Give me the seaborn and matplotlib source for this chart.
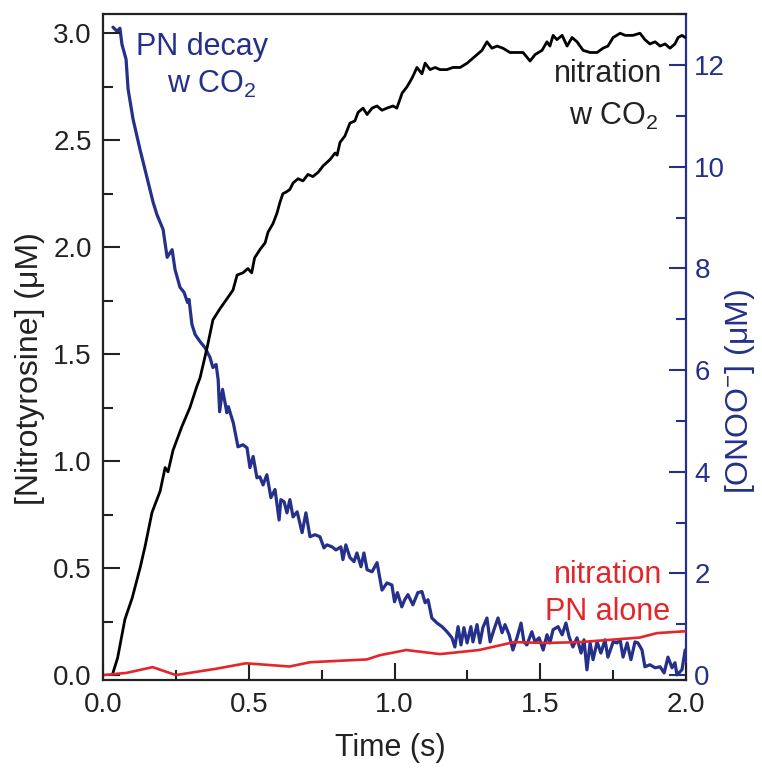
import matplotlib
matplotlib.use('Agg')
import matplotlib.pyplot as plt
from matplotlib.ticker import MultipleLocator
import seaborn as sns

# nitration with CO2 (left axis, uM)
t_nitr_co2 = [0.034, 0.05, 0.075, 0.10, 0.127, 0.144, 0.168, 0.196, 0.213, 0.223,
              0.24, 0.27, 0.298, 0.322, 0.333, 0.357, 0.377, 0.40, 0.436, 0.446,
              0.46, 0.48, 0.497, 0.51, 0.52, 0.539, 0.556, 0.566, 0.583, 0.597,
              0.607, 0.617, 0.631, 0.641, 0.652, 0.669, 0.686, 0.703, 0.72, 0.738,
              0.755, 0.779, 0.796, 0.803, 0.813, 0.83, 0.847, 0.864, 0.875, 0.892,
              0.906, 0.923, 0.94, 0.957, 0.974, 0.995, 1.008, 1.026, 1.043, 1.06,
              1.077, 1.094, 1.105, 1.122, 1.139, 1.156, 1.18, 1.20, 1.225, 1.249,
              1.266, 1.283, 1.30, 1.317, 1.334, 1.352, 1.372, 1.396, 1.42, 1.441,
              1.465, 1.482, 1.506, 1.523, 1.533, 1.544, 1.557, 1.575, 1.592, 1.609,
              1.626, 1.647, 1.671, 1.695, 1.715, 1.732, 1.75, 1.774, 1.791, 1.818,
              1.842, 1.859, 1.876, 1.894, 1.911, 1.928, 1.945, 1.962, 1.973, 1.986,
              1.997]
nitr_co2 = [0.01, 0.08, 0.26, 0.36, 0.50, 0.60, 0.76, 0.86, 0.97, 0.95,
            1.05, 1.16, 1.25, 1.35, 1.39, 1.53, 1.66, 1.71, 1.78, 1.80,
            1.87, 1.88, 1.90, 1.88, 1.95, 1.99, 2.02, 2.07, 2.11, 2.16,
            2.21, 2.25, 2.26, 2.27, 2.30, 2.32, 2.31, 2.34, 2.33, 2.35,
            2.38, 2.41, 2.44, 2.43, 2.49, 2.52, 2.58, 2.59, 2.63, 2.65,
            2.62, 2.65, 2.66, 2.64, 2.65, 2.66, 2.65, 2.72, 2.75, 2.79,
            2.84, 2.81, 2.86, 2.83, 2.84, 2.83, 2.83, 2.84, 2.84, 2.86,
            2.88, 2.90, 2.92, 2.96, 2.93, 2.94, 2.93, 2.91, 2.91, 2.91,
            2.87, 2.90, 2.92, 2.96, 2.94, 2.99, 2.97, 2.99, 2.94, 2.98,
            2.96, 2.92, 2.91, 2.91, 2.93, 2.94, 2.98, 3.00, 2.99, 2.99,
            3.00, 2.97, 2.95, 2.96, 2.94, 2.95, 2.93, 2.95, 2.98, 2.99,
            2.98]

# nitration, peroxynitrite alone (left axis, uM)
t_nitr_alone = [0.0, 0.08, 0.17, 0.25, 0.39, 0.49, 0.64, 0.71, 0.905, 0.95,
                1.04, 1.156, 1.29, 1.41, 1.52, 1.635, 1.84, 1.90, 2.0]
nitr_alone = [0.0, 0.01, 0.037, 0.0, 0.03, 0.055, 0.04, 0.06, 0.073, 0.093,
              0.117, 0.098, 0.117, 0.154, 0.15, 0.154, 0.175, 0.196, 0.205]

# peroxynitrite decay with CO2 (right axis, uM)
t_pn = [0.034, 0.048, 0.058, 0.065, 0.079, 0.086, 0.103, 0.127, 0.144, 0.161,
        0.172, 0.185, 0.206, 0.22, 0.237, 0.247, 0.264, 0.278, 0.29, 0.295,
        0.305, 0.316, 0.333, 0.35, 0.367, 0.377, 0.388, 0.395, 0.40, 0.41,
        0.425, 0.43, 0.447, 0.463, 0.48, 0.494, 0.504, 0.515, 0.528, 0.538,
        0.549, 0.562, 0.576, 0.59, 0.604, 0.61, 0.621, 0.631, 0.641, 0.652,
        0.666, 0.683, 0.696, 0.71, 0.727, 0.744, 0.758, 0.768, 0.786, 0.799,
        0.816, 0.823, 0.833, 0.847, 0.861, 0.871, 0.885, 0.895, 0.906, 0.923,
        0.94, 0.957, 0.974, 0.991, 1.0, 1.01, 1.025, 1.035, 1.046, 1.063,
        1.08, 1.094, 1.105, 1.115, 1.128, 1.146, 1.163, 1.18, 1.197, 1.207,
        1.218, 1.228, 1.238, 1.249, 1.262, 1.269, 1.283, 1.293, 1.303, 1.317,
        1.328, 1.341, 1.355, 1.369, 1.379, 1.393, 1.406, 1.42, 1.434, 1.444,
        1.454, 1.471, 1.482, 1.496, 1.51, 1.523, 1.533, 1.544, 1.561, 1.575,
        1.588, 1.599, 1.612, 1.626, 1.64, 1.65, 1.66, 1.671, 1.681, 1.695,
        1.708, 1.722, 1.732, 1.75, 1.763, 1.774, 1.784, 1.798, 1.811, 1.825,
        1.835, 1.849, 1.859, 1.876, 1.894, 1.911, 1.925, 1.938, 1.952, 1.962,
        1.969, 1.986, 1.997]
pn_co2 = [12.75, 12.67, 12.73, 12.41, 12.12, 11.53, 10.94, 10.34, 9.95, 9.56,
          9.30, 9.06, 8.77, 8.22, 8.37, 7.98, 7.63, 7.53, 7.33, 7.39,
          6.90, 6.70, 6.56, 6.44, 6.25, 6.05, 6.11, 5.81, 5.18, 5.62,
          5.16, 5.28, 4.96, 4.49, 4.53, 4.47, 4.08, 4.30, 3.88, 3.90,
          3.74, 3.94, 3.49, 3.65, 3.05, 3.45, 3.41, 3.19, 3.45, 3.11,
          3.21, 2.80, 3.19, 2.72, 2.76, 2.72, 2.50, 2.56, 2.52, 2.46,
          2.52, 2.27, 2.56, 2.31, 2.23, 2.40, 2.13, 2.40, 2.07, 2.03,
          2.21, 1.67, 1.81, 1.77, 1.44, 1.62, 1.34, 1.48, 1.58, 1.38,
          1.62, 1.64, 1.42, 1.48, 1.12, 1.02, 0.95, 0.85, 0.73, 0.55,
          0.95, 0.59, 0.93, 0.63, 0.95, 0.65, 0.99, 0.63, 0.93, 1.12,
          0.65, 0.89, 1.12, 0.83, 0.99, 0.79, 0.49, 0.73, 1.02, 0.65,
          0.59, 0.85, 0.65, 0.73, 0.49, 0.79, 0.63, 0.89, 0.95, 0.79,
          1.02, 0.75, 0.55, 0.73, 0.43, 0.69, 0.10, 0.63, 0.30, 0.65,
          0.43, 0.69, 0.35, 0.65, 0.63, 0.69, 0.35, 0.63, 0.30, 0.65,
          0.63, 0.49, 0.16, 0.20, 0.14, 0.16, 0.04, 0.35, 0.14, 0.24,
          0.0, 0.10, 0.49]

NAVY = '#24308a'
RED = '#e4252a'

sns.set_theme(style='ticks')
plt.rcParams['font.family'] = ['Liberation Sans', 'DejaVu Sans']
plt.rcParams['mathtext.fontset'] = 'custom'
plt.rcParams['mathtext.rm'] = 'Liberation Sans'
plt.rcParams['mathtext.default'] = 'regular'

fig = plt.figure(figsize=(7.62, 7.68), dpi=100, facecolor='white')
ax = fig.add_axes([0.1352, 0.1146, 0.7651, 0.8672])
ax2 = ax.twinx()

sns.lineplot(x=t_pn, y=pn_co2, ax=ax2, color=NAVY, lw=2.3,
             estimator=None, sort=False, legend=False)
sns.lineplot(x=t_nitr_co2, y=nitr_co2, ax=ax, color='black', lw=2.0,
             estimator=None, sort=False, legend=False)
sns.lineplot(x=t_nitr_alone, y=nitr_alone, ax=ax, color=RED, lw=1.9,
             estimator=None, sort=False, legend=False)

# left axis drawn above the twin so the nitration traces sit on top
ax.set_zorder(ax2.get_zorder() + 1)
ax.patch.set_visible(False)

ax.set_xlim(0, 2.0)
ax.set_ylim(-0.023, 3.09)
ax2.set_ylim(-0.1, 13.01)

ax.xaxis.set_major_locator(MultipleLocator(0.5))
ax.xaxis.set_minor_locator(MultipleLocator(0.25))
ax.yaxis.set_major_locator(MultipleLocator(0.5))
ax.yaxis.set_minor_locator(MultipleLocator(0.25))
ax2.yaxis.set_major_locator(MultipleLocator(2))
ax2.yaxis.set_minor_locator(MultipleLocator(1))

ax.tick_params(which='both', direction='in', width=1.5, top=False, right=False,
               labelsize=20, colors='#222222')
ax.tick_params(axis='y', pad=8)
ax.tick_params(axis='x', pad=9)
ax.tick_params(which='major', length=12)
ax.tick_params(which='minor', length=7)
ax2.tick_params(which='both', direction='in', width=1.5, colors=NAVY,
                labelsize=20, pad=6)
ax2.tick_params(which='major', length=12)
ax2.tick_params(which='minor', length=7)

for side in ['left', 'top', 'bottom']:
    ax.spines[side].set_linewidth(1.6)
    ax.spines[side].set_color('#222222')
    ax2.spines[side].set_visible(False)
ax.spines['right'].set_visible(False)
ax2.spines['right'].set_linewidth(1.6)
ax2.spines['right'].set_color(NAVY)

ax.set_xlabel('Time (s)', fontsize=22, va='center', color='#222222')
ax.xaxis.set_label_coords(0.492, -0.102)
ax.set_ylabel('[Nitrotyrosine] (μM)', fontsize=23, va='center', color='#222222')
ax.yaxis.set_label_coords(-0.125, 0.468)
ax2.set_ylabel('[ONOO$^{-}$] (μM)', fontsize=23, color=NAVY, va='center', rotation=90)
ax2.yaxis.set_label_coords(1.093, 0.434)

txt = dict(transform=ax.transAxes, fontsize=22, va='baseline')
ax.text(0.17, 0.938, 'PN decay', color=NAVY, ha='center', **txt)
ax.text(0.187, 0.881, 'w CO$_2$', color=NAVY, ha='center', **txt)
ax.text(0.96, 0.898, 'nitration', color='#222222', ha='right', **txt)
ax.text(0.952, 0.833, 'w CO$_2$', color='#222222', ha='right', **txt)
ax.text(0.866, 0.146, 'nitration', color=RED, ha='center', **txt)
ax.text(0.866, 0.090, 'PN alone', color=RED, ha='center', **txt)

fig.savefig('out.png', dpi=100, facecolor='white')
